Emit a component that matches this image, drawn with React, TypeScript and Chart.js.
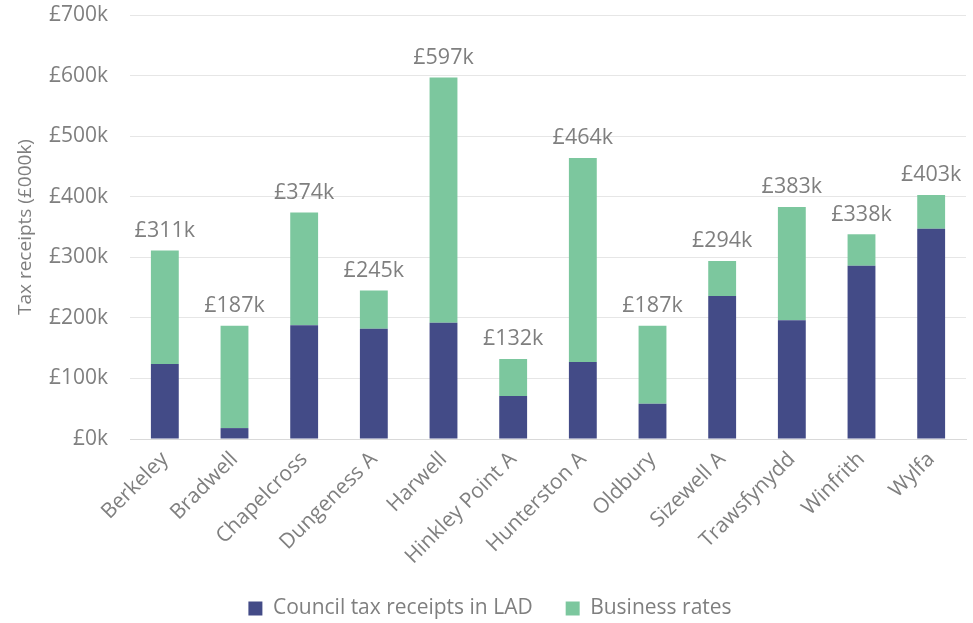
import React, { useEffect, useRef } from "react";
import { Chart, registerables } from "chart.js";

Chart.register(...registerables);

const categories = [
  "Berkeley", "Bradwell", "Chapelcross", "Dungeness A", "Harwell", "Hinkley Point A",
  "Hunterston A", "Oldbury", "Sizewell A", "Trawsfynydd", "Winfrith", "Wylfa",
];
const councilTax = [124, 18, 188, 182, 192, 71, 127, 58, 236, 196, 286, 347];
const businessRates = [187, 169, 186, 63, 405, 61, 337, 129, 58, 187, 52, 56];
const totals = [311, 187, 374, 245, 597, 132, 464, 187, 294, 383, 338, 403];
const yTicks = [0, 100, 200, 300, 400, 500, 600, 700];

const FONT = "'Open Sans', 'Liberation Sans', sans-serif";
const GREY = "#7f7f7f";

const totalLabels = {
  id: "totalLabels",
  afterDatasetsDraw(chart: any) {
    const ctx = chart.ctx;
    const meta = chart.getDatasetMeta(1);
    ctx.save();
    ctx.font = `21.5px ${FONT}`;
    ctx.fillStyle = GREY;
    ctx.textAlign = "center";
    ctx.textBaseline = "bottom";
    meta.data.forEach((el: any, i: number) => {
      ctx.fillText(`£${totals[i]}k`, el.x, el.y - 9);
    });
    ctx.restore();
  },
};

export default function App() {
  const ref = useRef<HTMLCanvasElement>(null);
  useEffect(() => {
    document.body.style.margin = "0";
    const chart = new Chart(ref.current!, {
      type: "bar",
      data: {
        labels: categories,
        datasets: [
          {
            label: "Council tax receipts in LAD",
            data: councilTax,
            backgroundColor: "#434b87",
            barPercentage: 1,
            categoryPercentage: 0.4,
          },
          {
            label: "Business rates",
            data: businessRates,
            backgroundColor: "#7cc79e",
            barPercentage: 1,
            categoryPercentage: 0.4,
          },
        ],
      },
      options: {
        animation: false,
        responsive: false,
        maintainAspectRatio: false,
        layout: { padding: { top: 15, right: 7, left: 14, bottom: -6 } },
        plugins: {
          tooltip: { enabled: false },
          legend: {
            position: "bottom",
            labels: {
              color: GREY,
              font: { family: FONT, size: 21 },
              boxWidth: 14,
              boxHeight: 14,
              padding: 33,
            },
          },
        },
        scales: {
          x: {
            stacked: true,
            grid: { display: false },
            border: { color: "#d9d9d9" },
            afterFit: (axis: any) => {
              axis.height = 126;
            },
            ticks: {
              color: GREY,
              font: { family: FONT, size: 21 },
              maxRotation: 45,
              minRotation: 45,
              padding: 0,
            },
          },
          y: {
            stacked: true,
            min: 0,
            max: 700,
            afterBuildTicks: (axis: any) => {
              axis.ticks = yTicks.map((v) => ({ value: v }));
            },
            afterFit: (axis: any) => {
              axis.width = 130 - 14;
              axis.paddingTop = 0;
              axis.paddingBottom = 0;
            },
            grid: { color: "#e6e6e6", drawTicks: false },
            border: { display: false },
            ticks: {
              color: GREY,
              font: { family: FONT, size: 21 },
              padding: 22,
              callback: (v: any) => `£${v}k`,
            },
            title: {
              display: true,
              text: "Tax receipts (£000k)",
              color: GREY,
              font: { family: FONT, size: 19 },
              padding: 0,
            },
          },
        },
      },
      plugins: [totalLabels],
    });
    return () => chart.destroy();
  }, []);
  return (
    <div style={{ width: 973, height: 623 }}>
      <canvas ref={ref} width={973} height={623} />
    </div>
  );
}
